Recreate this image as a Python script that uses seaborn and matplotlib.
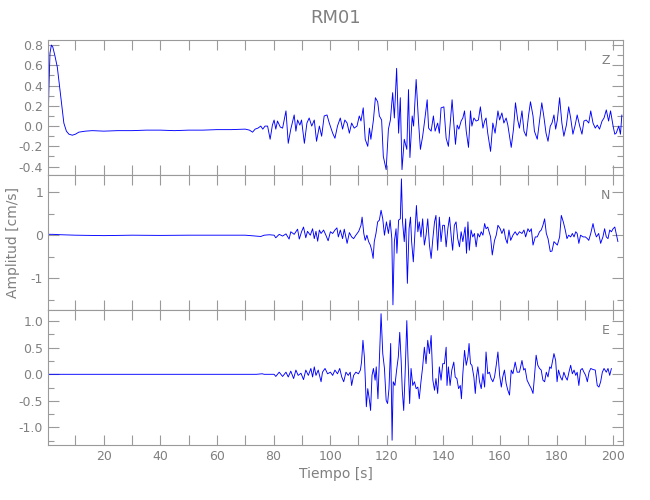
import numpy as np
import pandas as pd
import matplotlib
matplotlib.use("Agg")
import matplotlib.pyplot as plt
from matplotlib.ticker import MultipleLocator, FormatStrFormatter
import seaborn as sns

sns.set_theme(style="white")
plt.rcParams['font.family'] = ['DejaVu Sans']

title = "RM01"
xlabel = "Tiempo [s]"
ylabel = "Amplitud [cm/s]"
components = ["Z", "N", "E"]

# ---- Z component ----
t_z = [0.3, 0.6, 1.0, 1.5, 2.0, 2.7, 3.6, 4.8, 5.9, 6.8, 7.7, 8.9, 10.0, 11.2, 13.5, 16, 20, 25, 30, 35,
       40, 45, 50, 55, 60, 65, 70, 71.5, 72.6, 73.5, 74.5, 75.5, 76.2, 77.0,
       77.9, 78.8, 79.6, 80.2, 80.8, 81.4, 82.4, 83.2, 84.4, 85.2, 86.1, 87.3, 87.9, 88.5, 89.3, 89.9,
       90.9, 91.8, 92.6, 93.5, 94.4, 95.2, 96.2, 97.0, 97.9, 98.9, 99.7, 100.9, 101.7, 102.6, 103.6,
       104.4, 105.2, 106.0, 106.8, 107.6, 108.5, 109.5, 110.3, 110.9, 111.7, 112.4, 113.3, 113.9, 114.4,
       115.3, 116.0, 116.8, 117.4, 118.2, 118.8, 119.8, 120.6, 121.3, 122.1, 122.7, 123.5, 124.2, 124.8,
       125.4, 126.2, 127.1, 127.7, 128.2, 129.0, 129.5, 130.4, 131.2, 131.9, 132.7, 133.3, 134.3, 134.8,
       135.7, 136.5, 137.1, 138.0, 138.6, 139.2, 140.2,
       141.0, 141.8, 142.5, 143.1, 143.7, 144.3, 144.9, 145.5, 146.3, 146.9, 147.5, 148.1, 148.9, 149.6,
       150.1, 150.8, 151.6, 152.4, 153.1, 154.0, 154.6, 155.1, 155.7, 156.7, 157.5, 158.3, 159.3, 159.9,
       160.7, 161.4, 162.2, 162.8, 164.0, 164.8, 165.5, 166.3, 166.9, 167.8, 168.5, 169.3, 170.1, 170.8,
       171.7, 172.2, 173.2, 174.0, 174.8, 175.5, 176.3, 177.0, 177.8, 178.4, 179.1, 179.7, 180.3, 181.1,
       181.9, 182.6, 183.5, 184.3, 185.0, 185.8, 186.6, 187.3, 188.2, 189.0, 189.7, 190.5, 191.4, 192.1,
       192.9, 193.7, 194.4, 195.2, 196.1, 196.8, 197.6, 198.4, 199.1, 200.0, 200.6, 201.1, 202.0, 202.6,
       203.1]
v_z = [-0.02, 0.35, 0.72, 0.80, 0.78, 0.70, 0.58, 0.29, 0.03, -0.05, -0.08, -0.09, -0.08, -0.06, -0.05,
       -0.045, -0.05, -0.045, -0.045, -0.04, -0.04, -0.045, -0.04, -0.04, -0.035, -0.035, -0.03, -0.04,
       -0.06, -0.03, -0.02, 0.0, -0.03, 0.0,
       0.0, -0.13, 0.01, 0.06, -0.03, 0.05, -0.01, -0.02, 0.15, -0.17, -0.03, 0.11, -0.05, 0.06, 0.01, 0.06,
       -0.17, 0.03, 0.08, 0.0, 0.06, -0.15, 0.0, -0.10, 0.10, 0.11, 0.03, -0.07, -0.12, 0.0, 0.08,
       -0.03, 0.06, 0.03, -0.07, 0.03, -0.02, 0.0, 0.10, 0.05, 0.18, -0.13, -0.20, -0.02, -0.13,
       0.06, 0.28, 0.24, 0.10, 0.06, -0.30, -0.43, -0.03, 0.06, 0.33, 0.08, 0.57, -0.07, 0.28,
       -0.43, -0.13, -0.23, 0.36, -0.31, 0.10, 0.0, 0.46, 0.06, -0.23, -0.10, 0.03, 0.26, -0.02,
       -0.05, 0.10, -0.05, 0.03, -0.07, 0.18, 0.19,
       -0.12, -0.20, 0.05, 0.26, 0.03, -0.18, 0.01, -0.03, 0.05, 0.08, 0.15, -0.05, -0.21, 0.15,
       0.0, 0.08, 0.05, 0.06, 0.19, -0.02, 0.05, 0.08, -0.07, -0.25, 0.03, -0.07, 0.15, 0.06,
       0.13, 0.03, 0.08, 0.01, -0.21, -0.03, 0.23, 0.06, -0.02, 0.15, -0.05, -0.10, 0.10, 0.24,
       0.10, -0.05, -0.13, 0.05, 0.23, 0.10, -0.07, -0.15, 0.0, 0.03, 0.11, -0.03, 0.06, 0.28,
       0.03, -0.10, 0.01, 0.19, 0.08, -0.08, 0.01, 0.11, 0.0, -0.08, 0.05, 0.06, 0.03, 0.15,
       0.03, -0.02, 0.01, -0.03, 0.05, 0.08, 0.16, 0.05, 0.15, 0.0, -0.08, -0.07, 0.0, -0.08,
       0.11]

# ---- N component ----
t_n = [0.3, 2, 5, 10, 20, 30, 40, 50, 60, 70, 74, 75.5,
       76.7, 78.5, 80.2, 80.8, 82.0, 83.2, 84.4, 85.5, 86.1, 87.3, 88.5, 89.1, 89.9, 90.6, 91.4, 92.0,
       93.0, 93.8, 94.4, 95.0, 95.6, 96.2, 96.8, 97.7, 98.5, 99.3, 100.1, 100.9, 101.7, 102.4, 102.9,
       103.6, 104.4, 105.0, 106.0, 106.8, 107.6, 108.3, 109.1, 110.1, 110.9, 111.3, 111.9, 112.4, 113.0,
       113.6, 114.2, 114.7, 115.2, 115.6, 116.2, 116.8, 117.4, 118.0, 118.6, 119.2, 119.9, 120.6, 121.2,
       121.8, 122.2, 122.7, 123.3, 123.6, 124.2, 124.8, 125.2, 125.6, 126.2, 126.7, 127.3, 127.9, 128.4,
       128.8, 129.4, 130.0, 130.5, 131.0, 131.5, 132.1, 132.7, 133.3, 133.9, 134.5, 135.1, 135.7, 136.3,
       136.9, 137.4, 138.0, 138.6, 139.2, 139.8,
       140.4, 141.0, 141.6, 142.2, 142.8, 143.3, 143.9, 144.5, 145.1, 145.7, 146.3, 146.9, 147.7, 148.2,
       148.7, 149.2, 149.8, 150.4, 151.0, 151.6, 152.2, 152.8, 153.4, 154.0, 154.6, 155.1, 155.7, 156.7,
       157.3, 158.1, 158.7, 159.3, 160.1, 160.7, 161.4, 162.0, 162.6, 163.2, 163.8, 164.6, 165.4, 166.1,
       166.9, 167.8, 168.5, 169.1, 169.9, 170.5, 171.1, 171.7, 172.5, 173.2, 174.0, 174.6, 175.2, 175.8,
       176.4, 177.0, 177.8, 178.4, 179.1, 179.7, 180.3, 181.1, 181.7, 182.4, 183.1, 183.7, 184.3, 185.0,
       185.6, 186.2, 186.8, 187.3, 187.9, 188.5, 189.4, 190.2, 190.9, 191.4, 192.1, 192.9, 193.5, 194.1,
       194.9, 195.6, 196.4, 197.0, 197.6, 198.2, 198.8, 199.4, 200.0, 200.6, 201.1, 201.7]
v_n = [0.02, 0.02, 0.01, 0.0, -0.01, 0.0, -0.005, 0.0, 0.0, 0.0, -0.02, -0.03,
       0.0, 0.01, 0.0, -0.06, 0.02, -0.02, 0.03, -0.09, 0.08, 0.02, 0.14, -0.09, 0.08, 0.19, -0.06, 0.09,
       0.0, 0.15, -0.08, 0.09, -0.14, 0.12, 0.04, 0.12, 0.0, -0.13, 0.08, 0.04, 0.12, 0.17, -0.04,
       0.12, -0.08, 0.14, -0.19, 0.06, -0.04, -0.08, 0.0, 0.09, 0.23, 0.42, 0.04, -0.12, 0.0,
       -0.15, -0.23, -0.35, -0.54, -0.15, 0.04, 0.31, 0.35, 0.58, 0.38, 0.0, 0.31, 0.04, 0.35,
       -0.08, -1.62, -0.15, 0.15, -0.42, 0.35, 0.38, 1.31, 0.31, -0.15, 0.38, -1.12, 0.15, 0.42,
       -0.15, -0.62, 0.08, 0.69, 0.08, 0.31, -0.04, 0.38, -0.23, 0.0, 0.38, -0.23, -0.54, -0.08,
       0.31, 0.46, -0.35, 0.42, -0.15, 0.23,
       0.23, -0.27, 0.15, 0.42, -0.04, -0.35, 0.23, 0.31, -0.08, -0.27, 0.08, -0.15, 0.19, -0.42,
       0.31, -0.35, 0.12, -0.04, 0.04, -0.27, 0.04, -0.04, 0.08, 0.0, 0.27, 0.15, 0.19, -0.04,
       -0.46, -0.12, 0.0, 0.23, 0.15, 0.04, 0.15, -0.08, -0.19, 0.12, -0.12, 0.0, 0.08, 0.0,
       0.08, 0.04, 0.12, -0.04, 0.15, 0.08, 0.15, -0.23, -0.04, -0.04, 0.08, 0.12, 0.23, 0.38,
       0.04, -0.08, -0.38, -0.37, -0.15, -0.19, -0.23, -0.04, 0.46, 0.31, 0.12, -0.08, 0.0, -0.04,
       0.04, -0.04, 0.08, 0.04, -0.19, 0.0, -0.04, -0.04, -0.08, -0.12, 0.04, 0.27, 0.08, -0.04,
       0.04, -0.19, -0.04, 0.15, -0.04, -0.08, 0.12, 0.08, 0.15, 0.19, 0.04, -0.15]

# ---- E component ----
t_e = [0.3, 20, 40, 60, 74, 76.0,
       76.7, 80.2, 80.8, 82.0, 83.2, 84.4, 85.2, 86.1, 87.1, 87.9, 88.7, 89.7, 90.6, 91.4, 92.3, 93.2,
       93.8, 94.4, 95.0, 95.8, 96.8, 97.3, 98.2, 99.1, 100.1, 100.9, 101.7, 102.6, 103.4, 104.1, 104.8,
       105.6, 106.4, 107.1, 107.6, 108.3, 109.1, 110.0, 110.7, 111.1, 111.6, 112.1, 112.4, 112.8, 113.3,
       113.9, 114.3, 114.8, 115.3, 115.9, 116.3, 116.9, 117.4, 118.0, 118.6, 119.2, 119.8, 120.3, 120.8,
       121.4, 121.9, 122.3, 122.9, 123.5, 124.1, 124.6, 125.1, 125.5, 126.0, 126.5, 127.1, 127.5, 128.1,
       128.6, 129.2, 129.8, 130.4, 131.0, 131.5, 132.1, 132.7, 133.3, 133.9, 134.5, 135.1, 135.7, 136.3,
       136.9, 137.4, 138.0, 138.6, 139.2, 139.8,
       140.4, 141.0, 141.3, 141.8, 142.4, 143.0, 143.7, 144.2, 144.8, 145.4, 146.0, 146.4, 146.9, 147.5,
       148.1, 148.7, 149.1, 149.6, 150.1, 150.8, 151.3, 151.7, 152.2, 152.8, 153.4, 154.0, 154.6, 155.1,
       155.7, 156.3, 156.9, 157.5, 158.1, 158.7, 159.3, 159.9, 160.5, 161.0, 161.6, 162.2, 162.8, 163.4,
       164.0, 164.6, 165.4, 166.1, 166.9, 167.8, 168.4, 168.9, 169.6, 170.5, 171.1, 171.7, 172.2, 172.8,
       173.4, 174.0, 174.6, 175.2, 175.8, 176.4, 177.0, 177.6, 178.1, 179.1, 179.7, 180.2, 180.7, 181.4,
       182.0, 182.6, 183.2, 183.8, 184.4, 185.0, 185.6, 186.2, 186.8, 187.3, 187.9, 188.5, 189.1, 189.7,
       190.3, 190.9, 191.5, 192.1, 192.9, 193.7, 194.4, 195.0, 195.6, 196.2, 196.8, 197.6, 198.2, 198.8,
       199.4]
v_e = [0.0, 0.0, 0.0, 0.0, 0.0, 0.01,
       0.0, 0.0, -0.04, 0.04, -0.04, 0.04, -0.05, 0.06, -0.08, 0.08, -0.02, 0.02, -0.10, 0.08, -0.02, 0.11,
       -0.05, 0.14, -0.02, 0.08, -0.14, 0.04, 0.11, 0.01, 0.04, -0.02, 0.08, 0.01, 0.11, -0.05, -0.14,
       0.04, -0.02, 0.04, -0.21, -0.02, 0.04, 0.01, 0.08, 0.23, 0.64, 0.33, -0.05, -0.61, -0.27,
       -0.49, -0.68, -0.02, 0.11, -0.11, 0.14, -0.46, 0.26, 1.14, 0.39, 0.11, -0.49, -0.55, -0.27,
       0.58, -1.24, -0.14, -0.21, 0.08, 0.33, 0.79, 0.26, -0.30, -0.68, 0.01, 1.01, 0.33, -0.55,
       0.11, -0.21, -0.14, -0.27, -0.24, -0.46, -0.14, 0.14, 0.51, 0.20, 0.64, 0.39, 0.73, -0.11,
       -0.30, -0.08, -0.36, 0.14, -0.11, 0.20,
       0.20, 0.51, -0.21, 0.14, -0.21, 0.08, 0.23, -0.05, -0.08, -0.27, -0.21, -0.46, 0.01, 0.45,
       0.17, 0.33, 0.58, 0.20, 0.17, -0.05, -0.36, -0.05, 0.14, -0.14, -0.27, 0.01, -0.24, 0.42,
       0.01, 0.04, -0.08, -0.14, -0.05, 0.17, 0.42, -0.02, -0.24, -0.05, 0.08, -0.17, -0.30, -0.39,
       0.08, 0.01, 0.23, 0.04, 0.04, 0.26, 0.08, 0.11, -0.11, -0.21, -0.27, -0.36, -0.05, 0.36,
       0.17, 0.11, 0.08, -0.11, -0.14, 0.04, -0.05, 0.14, 0.11, 0.39, 0.26, -0.14, 0.08, -0.05,
       -0.11, 0.04, -0.05, -0.11, 0.04, 0.17, 0.01, 0.08, -0.02, 0.04, -0.21, 0.08, 0.11, 0.04,
       -0.02, -0.14, 0.04, 0.11, 0.09, 0.08, -0.21, -0.24, -0.14, 0.04, 0.11, 0.04, 0.11, -0.02,
       0.11]

series = {"Z": (t_z, v_z), "N": (t_n, v_n), "E": (t_e, v_e)}
ylims = {"Z": (-0.483, 0.85), "N": (-1.74, 1.40), "E": (-1.33, 1.21)}
ymajor = {"Z": 0.2, "N": 1.0, "E": 0.5}
yminor = {"Z": 0.1, "N": 0.5, "E": 0.25}
yfmt = {"Z": "%.1f", "N": "%.0f", "E": "%.1f"}

gray = "#808080"
spine_gray = "#9a9a9a"

fig = plt.figure(figsize=(6.5, 5.0), dpi=100)
fig.patch.set_facecolor("white")
left, right, top, bottom = 48 / 650, 623 / 650, 1 - 40 / 500, 1 - 445 / 500
h = (top - bottom) / 3
axes = []
for i, comp in enumerate(components):
    ax = fig.add_axes([left, top - (i + 1) * h, right - left, h])
    axes.append(ax)
    t, v = series[comp]
    df = pd.DataFrame({"t": t, "v": v})
    sns.lineplot(data=df, x="t", y="v", ax=ax, color="#0000ff", linewidth=0.65,
                 estimator=None, sort=False, errorbar=None)
    ax.set_xlim(0.3, 203.5)
    ax.set_ylim(*ylims[comp])
    ax.xaxis.set_major_locator(MultipleLocator(20))
    ax.xaxis.set_minor_locator(MultipleLocator(10))
    ax.yaxis.set_major_locator(MultipleLocator(ymajor[comp]))
    ax.yaxis.set_minor_locator(MultipleLocator(yminor[comp]))
    ax.yaxis.set_major_formatter(FormatStrFormatter(yfmt[comp]))
    ax.tick_params(axis="both", which="both", direction="in", top=True, right=True,
                   bottom=True, left=True, colors=spine_gray, labelcolor=gray, labelsize=9)
    ax.tick_params(axis="y", which="major", length=8, width=0.8)
    ax.tick_params(axis="y", which="minor", length=4, width=0.8)
    ax.tick_params(axis="x", which="both", length=7, width=0.8)
    for s in ax.spines.values():
        s.set_color(spine_gray)
        s.set_linewidth(0.8)
        s.set_visible(True)
    ax.set_xlabel("")
    ax.set_ylabel("")
    ax.text(0.97, 0.845, comp, transform=ax.transAxes, ha="center", va="center",
            color=gray, fontsize=9)
    if i < 2:
        ax.tick_params(axis="x", labelbottom=False)
    ax.set_facecolor("white")

axes[2].set_xlabel(xlabel, color=gray, fontsize=10, labelpad=3)
fig.text(0.02, (top + bottom) / 2, ylabel, rotation=90, ha="center", va="center",
         color=gray, fontsize=10)
fig.text((left + right) / 2, 1 - 18 / 500, title, ha="center", va="center",
         color=gray, fontsize=13)

fig.savefig("out.png", dpi=100, facecolor="white")
